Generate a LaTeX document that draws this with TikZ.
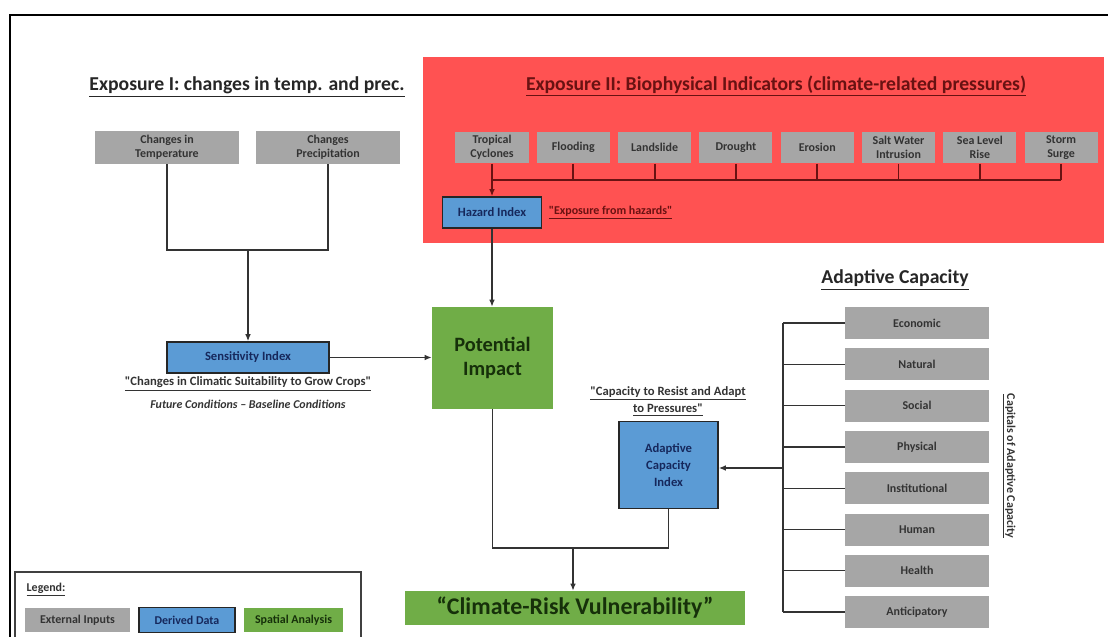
\documentclass[tikz,border=0pt]{standalone}
\usepackage{fontspec}
\setmainfont{Carlito}
\usetikzlibrary{arrows.meta, positioning, calc}
\definecolor{inputgray}{RGB}{166,166,166}
\definecolor{derivedblue}{RGB}{91,155,213}
\definecolor{spatialgreen}{RGB}{112,173,71}
\definecolor{exposurered}{RGB}{255,82,82}
\definecolor{darkred}{RGB}{105,18,18}
\definecolor{navytext}{RGB}{22,40,92}
\definecolor{greentext}{RGB}{22,48,10}

\tikzset{
  inputbox/.style={fill=inputgray, text=black!80, align=center, inner sep=0pt,
    font=\bfseries\fontsize{8.5}{10}\selectfont},
  derivedbox/.style={fill=derivedblue, draw=black!85, line width=1.1pt, text=navytext,
    align=center, inner sep=0pt, font=\bfseries\fontsize{9}{12}\selectfont},
  spatialbox/.style={fill=spatialgreen, text=greentext, align=center, inner sep=0pt},
  heading/.style={font=\bfseries\fontsize{14}{16}\selectfont, text=black!85},
  note/.style={font=\bfseries\fontsize{9}{11}\selectfont, text=black!80, inner sep=1pt},
  link/.style={draw=black!80, line width=0.9pt},
  hazlink/.style={draw=darkred, line width=1.3pt},
  arr/.style={link, -{Latex[length=5pt,width=4pt]}},
}

\begin{document}
\begin{tikzpicture}[x=0.025cm, y=-0.025cm]
\useasboundingbox (0,0) rectangle (1108,636);
% outer frame
\draw[black, line width=1.4pt] (10,640) -- (10,15) -- (1110,15);

% exposure II background
\fill[exposurered] (423,57) rectangle (1104,243);

% titles
\node[heading] (expI) at (247,87) {\underline{Exposure I: changes in temp. and prec.}};
\node[heading, text=darkred] (expII) at (776,86) {\underline{Exposure II: Biophysical Indicators (climate-related pressures)}};
\node[heading] (adapt) at (895,280) {\underline{Adaptive Capacity}};

% exposure I inputs
\node[inputbox, minimum width=36mm, minimum height=8.25mm] (temp) at (167,147.5) {Changes in\\Temperature};
\node[inputbox, minimum width=36mm, minimum height=8.25mm] (prec) at (328,147.5) {Changes\\Precipitation};
\coordinate (tpjoin) at (248,250);
\draw[link] (temp.south) |- (prec.south |- tpjoin) -- (prec.south);

\node[derivedbox, minimum width=40.5mm, minimum height=7.75mm] (sens) at (248,357.5) {Sensitivity Index};
\draw[arr] (tpjoin) -- (sens.north);
\node[note] (sensnote) at (248,384) {\underline{\textquotedbl Changes in Climatic Suitability to Grow Crops\textquotedbl}};
\node[note, font=\bfseries\itshape\fontsize{8.5}{10}\selectfont] (sensform) at (248,404) {Future Conditions -- Baseline Conditions};

% exposure II hazards
\foreach \lbl [count=\i] in {{Tropical\\Cyclones}, Flooding, Landslide, Drought, Erosion,
    {Salt Water\\Intrusion}, {Sea Level\\Rise}, {Storm\\Surge}}
  \node[inputbox, minimum width=18.25mm, minimum height=7.9mm] (hz\i) at ({492+81.3*(\i-1)},147.5) {\lbl};
\coordinate (hzbus) at (492,180);
\foreach \i in {1,...,8}
  \draw[hazlink] (hz\i.south) -- (hz\i.south |- hzbus);
\draw[hazlink] (hzbus) -- (hz8.south |- hzbus);

\node[derivedbox, minimum width=24.75mm, minimum height=7.75mm] (hazard) at (492,212.5) {Hazard Index};
\draw[arr, draw=darkred] (hzbus) -- (hazard.north);
\node[note, text=darkred, font=\bfseries\fontsize{8.5}{10}\selectfont, right=1.2mm of hazard] (haznote) {\underline{\textquotedbl Exposure from hazards\textquotedbl}};

% potential impact
\node[spatialbox, minimum width=30.25mm, minimum height=25.5mm,
  font=\bfseries\fontsize{14.5}{17}\selectfont] (impact) at (492.5,358) {Potential\\Impact};
\draw[arr] (hazard.south) -- (hazard.south |- impact.north);
\draw[arr] (sens.east) -- (sens.east -| impact.west);

% adaptive capacity
\node[derivedbox, minimum width=24.75mm, minimum height=21.75mm] (aci) at (668.5,465) {Adaptive\\Capacity\\Index};
\node[note] (acinote1) at (668,393) {\underline{\textquotedbl Capacity to Resist and Adapt}};
\node[note] (acinote2) at (668,410) {\underline{to Pressures\textquotedbl}};

\foreach \lbl [count=\i] in {Economic, Natural, Social, Physical, Institutional, Human, Health, Anticipatory}
  \node[inputbox, minimum width=35.75mm, minimum height=8mm] (cap\i) at (917,{323+41.3*(\i-1)}) {\lbl};
\coordinate (capbus) at (783,468);
\draw[link] (cap1.west -| capbus) -- (cap8.west -| capbus);
\foreach \i in {1,...,8}
  \draw[link] (cap\i.west) -- (cap\i.west -| capbus);
\draw[arr] (capbus) -- (aci.east |- capbus);
\node[note, rotate=-90, font=\bfseries\fontsize{8.5}{10}\selectfont] (capnote) at (1009,466) {\underline{Capitals of Adaptive Capacity}};

% vulnerability
\node[spatialbox, minimum width=85mm, minimum height=8.5mm,
  font=\bfseries\fontsize{17}{19}\selectfont] (vuln) at (575,608) {“Climate-Risk Vulnerability”};
\coordinate (vjoin) at (573,548);
\draw[link] (impact.south) |- (aci.south |- vjoin) -- (aci.south);
\draw[arr] (vjoin) -- (vjoin |- vuln.north);

% legend
\draw[black!75, line width=1pt] (15,645) -- (15,572) -- (361,572) -- (361,645);
\node[note, anchor=west, font=\bfseries\fontsize{8.5}{10}\selectfont] (legtitle) at (25,590) {\underline{Legend:}};
\node[inputbox, minimum width=26.25mm, minimum height=6.2mm] (legin) at (77.5,620) {External Inputs};
\node[derivedbox, line width=0.9pt, minimum width=24mm, minimum height=6.2mm,
  font=\bfseries\fontsize{8.5}{10}\selectfont] (legder) at (187,620) {Derived Data};
\node[spatialbox, minimum width=24.75mm, minimum height=6.2mm,
  font=\bfseries\fontsize{8.5}{10}\selectfont] (legsp) at (293.5,620) {Spatial Analysis};
\end{tikzpicture}
\end{document}
